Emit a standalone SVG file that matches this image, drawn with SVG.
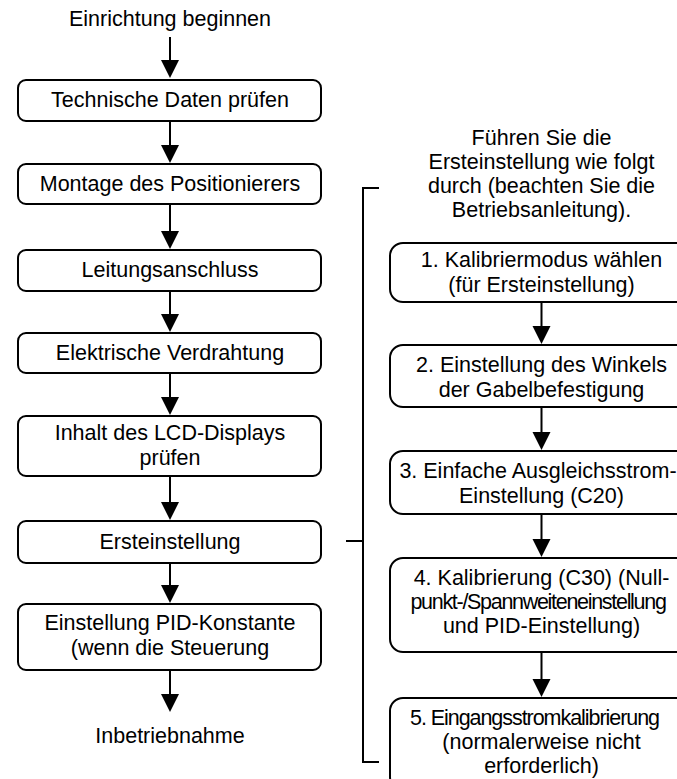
<svg xmlns="http://www.w3.org/2000/svg" width="677" height="779" viewBox="0 0 677 779">
<style>
text{font-family:"Liberation Sans",Arial,sans-serif;font-size:21.5px;fill:#000;text-anchor:middle}
.box{fill:#fff;stroke:#000;stroke-width:2}
.ln{fill:none;stroke:#000;stroke-width:2}
.ah{fill:#000;stroke:none}
</style>
<rect width="677" height="779" fill="#fff"/>
<g id="connectors">
<path class="ln" d="M170,37V64 M170,121V148 M170,204V234 M170,291V318 M170,373V400 M170,476V505 M170,563V588 M170,670V697"/>
<polygon class="ah" points="161,60 179,60 170,78"/>
<polygon class="ah" points="161,145 179,145 170,163"/>
<polygon class="ah" points="161,231 179,231 170,249"/>
<polygon class="ah" points="161,314 179,314 170,332"/>
<polygon class="ah" points="161,397 179,397 170,415"/>
<polygon class="ah" points="161,502 179,502 170,520"/>
<polygon class="ah" points="161,585 179,585 170,603"/>
<polygon class="ah" points="161,694 179,694 170,712"/>
<path class="ln" d="M541.5,302V329 M541.5,407V435 M541.5,514V542 M541.5,652V682"/>
<polygon class="ah" points="532.5,326 550.5,326 541.5,344"/>
<polygon class="ah" points="532.5,432 550.5,432 541.5,450"/>
<polygon class="ah" points="532.5,539 550.5,539 541.5,557"/>
<polygon class="ah" points="532.5,679 550.5,679 541.5,697"/>
<path class="ln" d="M379,188H363V762H379 M346,541H363"/>
</g>
<g id="start"><text x="170" y="26">Einrichtung beginnen</text></g>
<g id="n1"><rect class="box" x="18" y="80" width="303" height="41" rx="8"/><text x="170" y="107">Technische Daten prüfen</text></g>
<g id="n2"><rect class="box" x="18" y="164" width="303" height="40" rx="8"/><text x="170" y="191">Montage des Positionierers</text></g>
<g id="n3"><rect class="box" x="18" y="250" width="303" height="41" rx="8"/><text x="170" y="277">Leitungsanschluss</text></g>
<g id="n4"><rect class="box" x="18" y="333" width="303" height="40" rx="8"/><text x="170" y="360">Elektrische Verdrahtung</text></g>
<g id="n5"><rect class="box" x="18" y="416" width="303" height="60" rx="8"/><text x="170" y="440">Inhalt des LCD-Displays</text><text x="170" y="465">prüfen</text></g>
<g id="n6"><rect class="box" x="18" y="521" width="303" height="42" rx="8"/><text x="170" y="549">Ersteinstellung</text></g>
<g id="n7"><rect class="box" x="18" y="604" width="303" height="66" rx="8"/><text x="170" y="630">Einstellung PID-Konstante</text><text x="170" y="655">(wenn die Steuerung</text></g>
<g id="end"><text x="170" y="743">Inbetriebnahme</text></g>
<g id="note"><text x="541.5" y="145">Führen Sie die</text><text x="541.5" y="169">Ersteinstellung wie folgt</text><text x="541.5" y="193">durch (beachten Sie die</text><text x="541.5" y="217">Betriebsanleitung).</text></g>
<g id="s1"><rect class="box" x="390" y="243" width="303" height="59" rx="13"/><text x="541.5" y="267">1. Kalibriermodus wählen</text><text x="541.5" y="292">(für Ersteinstellung)</text></g>
<g id="s2"><rect class="box" x="390" y="345" width="303" height="62" rx="13"/><text x="541.5" y="372">2. Einstellung des Winkels</text><text x="541.5" y="397">der Gabelbefestigung</text></g>
<g id="s3"><rect class="box" x="390" y="451" width="303" height="63" rx="13"/><text x="538" y="478">3. Einfache Ausgleichsstrom-</text><text x="541.5" y="503">Einstellung (C20)</text></g>
<g id="s4"><rect class="box" x="390" y="558" width="303" height="94" rx="13"/><text x="541.5" y="585">4. Kalibrierung (C30) (Null-</text><text x="538" y="609" style="letter-spacing:-1.3px">punkt-/Spannweiteneinstellung</text><text x="541.5" y="633">und PID-Einstellung)</text></g>
<g id="s5"><rect class="box" x="390" y="698" width="303" height="92" rx="13"/><text x="534.5" y="725" style="letter-spacing:-1.05px">5. Eingangsstromkalibrierung</text><text x="541.5" y="749.2">(normalerweise nicht</text><text x="541.5" y="773.4">erforderlich)</text></g>
</svg>
